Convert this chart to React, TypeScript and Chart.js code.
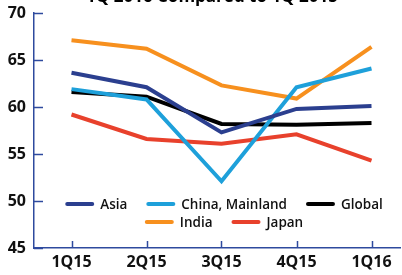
import React, { useEffect, useRef } from "react";
import { Chart, registerables } from "chart.js";

Chart.register(...registerables);

const categories = ["1Q15", "2Q15", "3Q15", "4Q15", "1Q16"];
const asia = [63.65, 62.1, 57.3, 59.8, 60.1];
const china = [61.9, 60.8, 52.1, 62.1, 64.1];
const globalVals = [61.6, 61.1, 58.2, 58.1, 58.3];
const india = [67.1, 66.2, 62.3, 60.9, 66.4];
const japan = [59.2, 56.6, 56.1, 57.1, 54.3];
const yTicks = [45, 50, 55, 60, 65, 70];
const titleText = "1Q 2016 Compared to 1Q 2015";

const AXIS = "#2E4A9E";
const FONT = "'Open Sans', sans-serif";

const seriesDefs = [
  { label: "Asia", data: asia, color: "#2B3F8F" },
  { label: "China, Mainland", data: china, color: "#1EA0DA" },
  { label: "Global", data: globalVals, color: "#000000" },
  { label: "India", data: india, color: "#F7901E" },
  { label: "Japan", data: japan, color: "#E8412C" },
];

const overlayPlugin = {
  id: "overlay",
  afterDraw(chart: any) {
    const ctx = chart.ctx;
    const { left, bottom } = chart.chartArea;
    const xs = chart.scales.x;
    const ys = chart.scales.y;
    ctx.save();
    ctx.strokeStyle = AXIS;
    ctx.lineWidth = 1.5;
    categories.forEach((_, i) => {
      const x = Math.round(xs.getPixelForValue(i)) + 0.5;
      ctx.beginPath();
      ctx.moveTo(x, bottom);
      ctx.lineTo(x, bottom - 7);
      ctx.stroke();
    });
    yTicks.forEach((v) => {
      const y = Math.round(ys.getPixelForValue(v)) + 0.5;
      ctx.beginPath();
      ctx.moveTo(left, y);
      ctx.lineTo(left + 9, y);
      ctx.stroke();
    });
    ctx.fillStyle = "#000";
    ctx.font = `700 17px ${FONT}`;
    ctx.textAlign = "center";
    ctx.textBaseline = "alphabetic";
    ctx.fillText(titleText, 212, 2, 287);
    const rows = [
      [0, 1, 2],
      [3, 4],
    ];
    const rowY = [204, 222];
    ctx.font = `600 13.5px ${FONT}`;
    ctx.textAlign = "left";
    ctx.textBaseline = "middle";
    const lineW = 29;
    const gapText = 6;
    const gapItem = 19;
    const centerX = 224;
    rows.forEach((row, r) => {
      const widths = row.map((i) => lineW + gapText + ctx.measureText(seriesDefs[i].label).width);
      const total = widths.reduce((a, b) => a + b, 0) + gapItem * (row.length - 1);
      let x = centerX - total / 2;
      row.forEach((i, k) => {
        const ds = chart.data.datasets[i];
        ctx.strokeStyle = ds.borderColor;
        ctx.lineWidth = 4;
        ctx.lineCap = "round";
        ctx.beginPath();
        ctx.moveTo(x + 2, rowY[r]);
        ctx.lineTo(x + lineW - 2, rowY[r]);
        ctx.stroke();
        ctx.fillStyle = "#111";
        ctx.fillText(ds.label, x + lineW + gapText, rowY[r] + 1);
        x += widths[k] + gapItem;
      });
    });
    ctx.restore();
  },
};

export default function App() {
  const ref = useRef<HTMLCanvasElement>(null);
  useEffect(() => {
    if (!ref.current) return;
    const chart = new Chart(ref.current, {
      type: "line",
      data: {
        datasets: seriesDefs.map((s) => ({
          label: s.label,
          data: s.data.map((v, i) => ({ x: i, y: v })),
          borderColor: s.color,
          backgroundColor: s.color,
          borderWidth: 4,
          pointRadius: 0,
          tension: 0,
          fill: false,
        })),
      },
      options: {
        animation: false,
        responsive: false,
        maintainAspectRatio: false,
        layout: { padding: { left: 0, right: 2, top: 13, bottom: 0 } },
        plugins: { legend: { display: false }, tooltip: { enabled: false } },
        scales: {
          x: {
            type: "linear",
            min: -0.5,
            max: 4.38,
            afterBuildTicks: (scale: any) => {
              scale.ticks = categories.map((_, i) => ({ value: i }));
            },
            afterFit: (scale: any) => {
              scale.height = 27;
              scale.paddingLeft = 0;
              scale.paddingRight = 0;
            },
            ticks: {
              callback: (v: any) => categories[v as number] ?? "",
              color: "#111",
              font: { family: FONT, size: 16, weight: "bold" },
              padding: 5,
              maxRotation: 0,
              autoSkip: false,
            },
            grid: { display: false, drawTicks: false },
            border: { color: AXIS, width: 1.5 },
          },
          y: {
            min: 45,
            max: 70,
            afterBuildTicks: (scale: any) => {
              scale.ticks = yTicks.map((v) => ({ value: v }));
            },
            afterFit: (scale: any) => {
              scale.width = 34;
              scale.paddingTop = 0;
              scale.paddingBottom = 0;
            },
            ticks: {
              color: "#111",
              font: { family: FONT, size: 16, weight: "bold" },
              padding: 8,
            },
            grid: { display: false, drawTicks: false },
            border: { color: AXIS, width: 1.5 },
          },
        },
      },
      plugins: [overlayPlugin],
    } as any);
    return () => chart.destroy();
  }, []);
  return (
    <div style={{ position: "absolute", left: 0, top: 0, width: 402, height: 275 }}>
      <canvas ref={ref} width={402} height={275} style={{ width: 402, height: 275 }} />
    </div>
  );
}
